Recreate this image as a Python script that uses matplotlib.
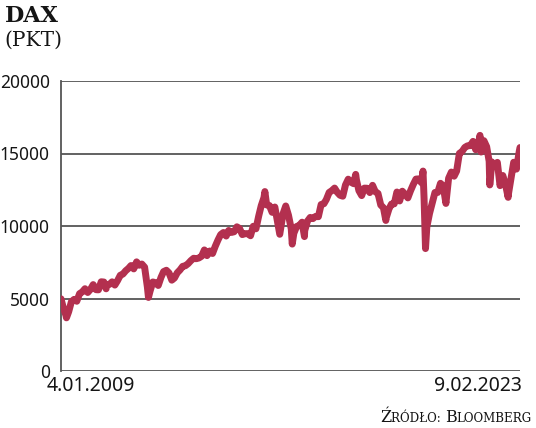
import pandas as pd
import numpy as np
import matplotlib
matplotlib.use("Agg")
import matplotlib.pyplot as plt

# DAX month-end closes, Jan 2009 - Jan 2023
v2009 = [4338, 3843, 4085, 4770, 4941, 4809, 5332, 5459, 5675, 5415, 5626, 5957]
v2010 = [5608, 5598, 6154, 6136, 5965, 5966, 6148, 5925, 6229, 6601, 6688, 6914]
v2011 = [7077, 7272, 7041, 7514, 7294, 7376, 7159, 5785, 5502, 6141, 6089, 5898]
v2012 = [6458, 6856, 6947, 6761, 6264, 6416, 6772, 6970, 7216, 7260, 7405, 7612]
v2013 = [7776, 7742, 7795, 7914, 8349, 7959, 8276, 8104, 8594, 9033, 9406, 9552]
v2014 = [9306, 9692, 9556, 9603, 9943, 9833, 9407, 9470, 9474, 9327, 9980, 9806]
v2015 = [10694, 11402, 11966, 11454, 11413, 10945, 11309, 10259, 9660, 10850, 11382, 10743]
v2016 = [9798, 9495, 9966, 10039, 10263, 9680, 10337, 10592, 10511, 10665, 10640, 11481]
v2017 = [11535, 11834, 12313, 12438, 12615, 12325, 12118, 12056, 12829, 13230, 13024, 12918]
v2018 = [13189, 12436, 12097, 12612, 12605, 12306, 12806, 12364, 12247, 11448, 11257, 10559]
v2019 = [11173, 11516, 11526, 12344, 11727, 12399, 12189, 11939, 12428, 12867, 13236, 13249]
v2020 = [12981, 11890, 9936, 10862, 11587, 12311, 12313, 12945, 12761, 11556, 13291, 13719]
v2021 = [13433, 13786, 15008, 15136, 15421, 15531, 15544, 15835, 15261, 15688, 15100, 15885]
v2022 = [15471, 14461, 14415, 14098, 14388, 12784, 13484, 12835, 12114, 13254, 14397, 13924]
v2023 = [15128]

# start / end of the period and notable intra-month highs and lows
extra_dates = ["2009-01-04", "2009-03-06", "2010-05-25", "2011-05-02", "2011-09-12",
               "2015-04-10", "2015-09-24", "2016-02-11", "2016-06-27", "2018-01-23",
               "2018-12-27", "2020-02-17", "2020-03-16", "2021-11-17", "2022-03-07",
               "2022-09-29", "2023-02-09"]
extra_values = [4980, 3666, 5670, 7528, 5072,
                12375, 9428, 8752, 9269, 13560,
                10382, 13789, 8442, 16251, 12832,
                11976, 15412]

monthly = v2009 + v2010 + v2011 + v2012 + v2013 + v2014 + v2015 + v2016 + \
    v2017 + v2018 + v2019 + v2020 + v2021 + v2022 + v2023
month_dates = pd.date_range("2009-01-31", periods=len(monthly), freq="ME")

s = pd.concat([pd.Series(monthly, index=month_dates),
               pd.Series(extra_values, index=pd.to_datetime(extra_dates))]).sort_index()

yticks = [0, 5000, 10000, 15000, 20000]
start_label = "4.01.2009"
end_label = "9.02.2023"

line_color = "#b3304f"
grid_color = "#555555"
text_color = "#151515"
num_font = "Noto Sans"

fig = plt.figure(figsize=(5.36, 4.28), dpi=100)
ax = fig.add_axes([61 / 536, 1 - 371 / 428, (520 - 61) / 536, (371 - 81) / 428])

ax.plot(s.index, s.values, color=line_color, linewidth=5, solid_joinstyle="round",
        solid_capstyle="round", zorder=3)

ax.set_xlim(pd.Timestamp("2009-01-04"), pd.Timestamp("2023-02-09"))
ax.set_ylim(0, 20000)
ax.set_yticks(yticks)
ax.set_yticklabels([str(t) for t in yticks], fontfamily=num_font, fontsize=12.5)
ax.set_xticks([])
ax.tick_params(axis="y", length=0, pad=8, colors=text_color)
for t in yticks:
    ax.axhline(t, color=grid_color, linewidth=1.3, zorder=1)
for sp in ["top", "right", "bottom"]:
    ax.spines[sp].set_visible(False)
ax.spines["left"].set_color(grid_color)
ax.spines["left"].set_linewidth(1.3)
ax.patch.set_alpha(0)

fig.text(47 / 536, 1 - 376 / 428, start_label, fontfamily=num_font, fontsize=14,
         ha="left", va="top", color=text_color)
fig.text(522 / 536, 1 - 376 / 428, end_label, fontfamily=num_font, fontsize=14,
         ha="right", va="top", color=text_color)

# title
fig.text(5 / 536, 1 - 22 / 428, "DAX", fontfamily="DejaVu Serif", fontweight="bold",
         fontsize=16, ha="left", va="baseline", color=text_color)
fig.text(4 / 536, 1 - 46 / 428, "(PKT)", fontfamily="DejaVu Serif", fontsize=14.5,
         ha="left", va="baseline", color=text_color)

# source in small caps, built piece by piece
pieces = [("Ź", 11.5), ("RÓDŁO: ", 8.6), ("B", 11.5), ("LOOMBERG", 8.6)]
fig.canvas.draw()
renderer = fig.canvas.get_renderer()
x_px = 380
for p, fs in pieces:
    t = fig.text(x_px / 536, 1 - 422 / 428, p, fontfamily="DejaVu Serif", fontsize=fs,
                 ha="left", va="baseline", color=text_color)
    x_px = t.get_window_extent(renderer).x1

fig.savefig("out.png", dpi=100)
